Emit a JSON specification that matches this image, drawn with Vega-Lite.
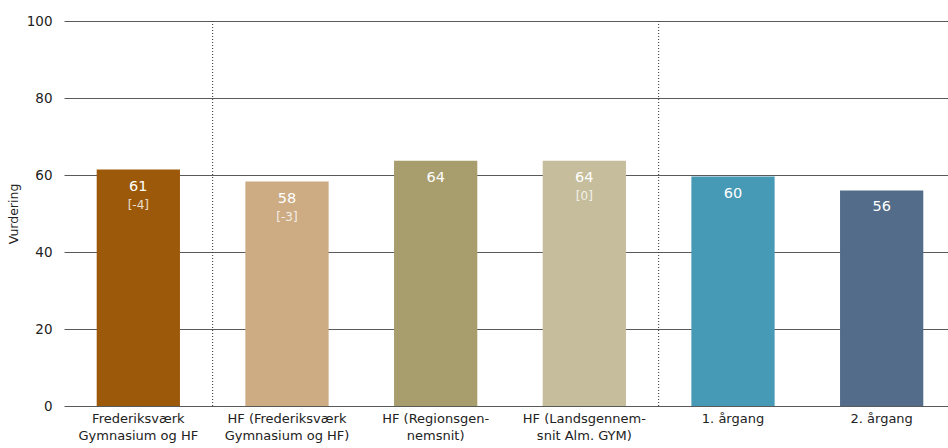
{
  "$schema": "https://vega.github.io/schema/vega-lite/v6.json",
  "width": 892,
  "height": 385,
  "autosize": {"type": "none"},
  "padding": {"left": 64, "top": 21, "right": 0, "bottom": 42},
  "background": "white",
  "config": {
    "view": {"stroke": null},
    "font": "DejaVu Sans",
    "axis": {"labelFont": "DejaVu Sans", "titleFont": "DejaVu Sans"}
  },
  "data": {
    "values": [
      {"kategori": "Frederiksværk|Gymnasium og HF", "vurdering": 61.4, "label": "61", "diff": "[-4]", "farve": "#9B5909"},
      {"kategori": "HF (Frederiksværk|Gymnasium og HF)", "vurdering": 58.3, "label": "58", "diff": "[-3]", "farve": "#CDAB83"},
      {"kategori": "HF (Regionsgen-|nemsnit)", "vurdering": 63.7, "label": "64", "diff": "", "farve": "#A89D6C"},
      {"kategori": "HF (Landsgennem-|snit Alm. GYM)", "vurdering": 63.7, "label": "64", "diff": "[0]", "farve": "#C5BD9B"},
      {"kategori": "1. årgang", "vurdering": 59.6, "label": "60", "diff": "", "farve": "#479AB6"},
      {"kategori": "2. årgang", "vurdering": 56.0, "label": "56", "diff": "", "farve": "#536C89"}
    ]
  },
  "encoding": {
    "x": {
      "field": "kategori",
      "type": "nominal",
      "sort": ["Frederiksværk|Gymnasium og HF", "HF (Frederiksværk|Gymnasium og HF)", "HF (Regionsgen-|nemsnit)", "HF (Landsgennem-|snit Alm. GYM)", "1. årgang", "2. årgang"],
      "scale": {"paddingInner": 0.44, "paddingOuter": 0.22},
      "axis": {
        "title": null,
        "labelAngle": 0,
        "labelExpr": "split(datum.label, '|')",
        "labelFontSize": 13,
        "labelColor": "#222222",
        "labelLineHeight": 17,
        "labelPadding": 6,
        "ticks": false,
        "domain": false,
        "labelBaseline": "top"
      }
    }
  },
  "layer": [
    {
      "mark": {"type": "bar"},
      "encoding": {
        "y": {
          "field": "vurdering",
          "type": "quantitative",
          "scale": {"domain": [0, 100]},
          "axis": {
            "title": "Vurdering",
            "titleFontSize": 12.5,
            "titleFontWeight": "normal",
            "titleColor": "#222222",
            "titlePadding": 6,
            "values": [0, 20, 40, 60, 80, 100],
            "labelFontSize": 13.5,
            "labelColor": "#222222",
            "labelPadding": 12,
            "ticks": false,
            "domain": false,
            "grid": true,
            "gridColor": "#5a5a5a",
            "gridWidth": 1,
            "gridOpacity": 1
          }
        },
        "color": {"field": "farve", "type": "nominal", "scale": null, "legend": null}
      }
    },
    {
      "mark": {"type": "rule", "strokeDash": [1, 2], "color": "#333333", "strokeWidth": 1},
      "transform": [{"filter": "datum.label == '58' || datum.label == '60'"}],
      "encoding": {
        "x": {"field": "kategori", "type": "nominal", "bandPosition": -0.393}
      }
    },
    {
      "mark": {"type": "text", "baseline": "top", "dy": 10, "fontSize": 14.5, "fontWeight": "normal", "color": "white"},
      "encoding": {
        "y": {"field": "vurdering", "type": "quantitative"},
        "text": {"field": "label"}
      }
    },
    {
      "mark": {"type": "text", "baseline": "top", "dy": 30, "fontSize": 12, "fontWeight": "normal", "color": "white", "opacity": 0.8},
      "encoding": {
        "y": {"field": "vurdering", "type": "quantitative"},
        "text": {"field": "diff"}
      }
    }
  ]
}
